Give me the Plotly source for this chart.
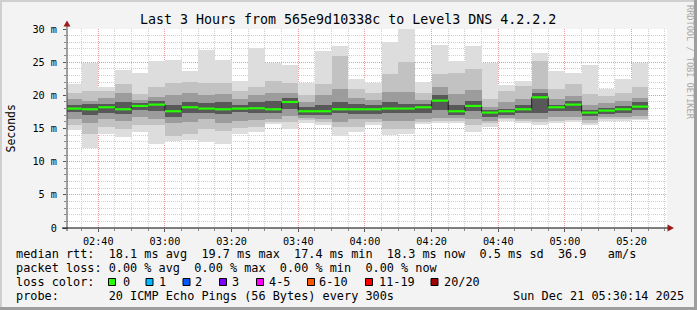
import plotly.graph_objects as go
import pandas as pd

# ---------------- data ----------------
bar_end = pd.date_range("2025-12-21 02:35:00", periods=35, freq="5min")

median_ms = [18.0, 17.9, 18.2, 17.9, 18.4, 18.6, 17.6, 18.2, 18.0, 17.9,
             18.0, 18.05, 17.9, 19.0, 17.6, 17.6, 17.9, 17.9, 17.9, 18.0,
             18.0, 18.2, 19.2, 17.6, 18.4, 17.4, 17.6, 17.9, 19.7, 18.2,
             18.6, 17.4, 17.7, 17.9, 18.3]
ping_max = [21.7, 24.8, 21.2, 23.8, 23.3, 25.2, 25.3, 23.7, 26.8, 25.3,
            22.1, 27.1, 24.9, 24.5, 21.8, 26.7, 27.5, 22.4, 21.8, 28.0,
            30.4, 22.0, 27.6, 25.2, 27.4, 24.9, 21.5, 22.2, 26.4, 23.7,
            23.3, 24.6, 21.0, 22.4, 24.8]
ping_u1 = [20.4, 20.6, 20.6, 21.7, 20.2, 21.2, 21.9, 22.0, 21.9, 21.9,
           20.7, 21.2, 22.2, 21.9, 20.0, 21.7, 26.0, 20.9, 20.4, 23.2,
           25.0, 20.4, 23.2, 23.4, 24.0, 19.4, 20.6, 21.4, 25.2, 21.0,
           21.7, 20.2, 19.9, 20.4, 21.2]
ping_u2 = [19.4, 19.2, 19.6, 20.4, 19.3, 19.8, 20.0, 20.4, 20.0, 20.2,
           19.5, 20.1, 20.4, 20.4, 19.0, 20.0, 21.0, 19.6, 19.3, 20.5,
           20.5, 19.3, 21.2, 20.2, 20.8, 18.3, 19.0, 19.5, 21.0, 19.4,
           19.9, 18.6, 18.8, 19.2, 19.6]
ping_u3 = [18.6, 18.7, 18.7, 19.0, 18.8, 19.2, 18.6, 19.0, 18.9, 19.0,
           18.6, 19.0, 19.2, 19.6, 18.2, 18.5, 19.0, 18.7, 18.6, 19.0,
           18.7, 18.7, 20.0, 18.6, 19.2, 17.8, 18.0, 18.6, 20.3, 18.6,
           19.2, 17.8, 18.1, 18.4, 19.0]
ping_l3 = [17.5, 17.0, 17.4, 17.2, 17.8, 17.6, 16.8, 17.3, 17.4, 17.2,
           17.5, 17.4, 17.3, 18.0, 17.0, 17.0, 17.3, 17.2, 17.2, 17.3,
           17.4, 17.4, 17.8, 17.0, 17.6, 16.7, 17.0, 17.3, 17.4, 17.6,
           17.6, 16.9, 17.2, 17.3, 17.8]
ping_l2 = [16.4, 15.9, 16.4, 16.1, 16.8, 16.4, 15.8, 16.0, 16.4, 15.9,
           16.2, 16.3, 16.4, 16.9, 16.6, 16.5, 16.0, 16.4, 16.4, 16.2,
           16.1, 16.4, 16.6, 16.6, 16.5, 16.2, 16.6, 16.5, 16.4, 16.8,
           16.7, 16.3, 16.7, 16.8, 16.9]
ping_l1 = [15.6, 14.2, 15.3, 15.0, 15.5, 15.6, 13.9, 14.1, 15.0, 14.6,
           15.1, 15.3, 16.0, 16.0, 16.3, 16.0, 15.2, 15.3, 16.0, 15.0,
           15.0, 16.0, 16.2, 16.2, 15.6, 15.8, 16.4, 16.1, 16.0, 16.2,
           16.3, 15.9, 16.4, 16.4, 16.5]
ping_min = [14.7, 12.0, 14.1, 13.7, 14.4, 12.7, 13.1, 13.2, 12.9, 12.6,
            14.1, 14.5, 15.7, 15.0, 15.9, 15.5, 13.8, 14.5, 15.5, 14.0,
            14.1, 15.7, 15.8, 15.8, 14.5, 15.3, 16.2, 15.8, 15.5, 15.8,
            16.0, 15.6, 16.1, 16.1, 16.3]

y_tick_vals = [0, 5, 10, 15, 20, 25, 30]
y_tick_text = ["0", "5 m", "10 m", "15 m", "20 m", "25 m", "30 m"]

title_text = "Last 3 Hours from 565e9d10338c to Level3 DNS 4.2.2.2"
legend_lines = [
    "median rtt:  18.1 ms avg  19.7 ms max  17.4 ms min  18.3 ms now  0.5 ms sd  36.9   am/s",
    "packet loss: 0.00 % avg  0.00 % max  0.00 % min  0.00 % now",
    "loss color:",
    "probe:       20 ICMP Echo Pings (56 Bytes) every 300s",
]
loss_labels = ["0", "1", "2", "3", "4-5", "6-10", "11-19", "20/20"]
loss_colors = ["#26ff00", "#00b8ff", "#0059ff", "#7e00ff", "#ff00ff", "#ff5500", "#ff0000", "#a10000"]
date_text = "Sun Dec 21 05:30:14 2025"

# ---------------- geometry ----------------
W, H = 697, 310
L, R, T, B = 67, 667, 29, 228
x_start = pd.Timestamp("2025-12-21 02:30:37")
x_stop = pd.Timestamp("2025-12-21 05:30:37")
MONO = "DejaVu Sans Mono"


def px(x):
    return (x - L) / (R - L)


def py(y):
    return (B - y) / (B - T)


def nb(s):
    return s.replace(" ", "\u00a0")


fig = go.Figure()

centers = bar_end - pd.Timedelta(seconds=150)
layers = [(ping_min, ping_max, "#dddddd"),
          (ping_l1, ping_u1, "#c2c2c2"),
          (ping_l2, ping_u2, "#9c9c9c"),
          (ping_l3, ping_u3, "#585858")]
for lo, hi, col in layers:
    fig.add_trace(go.Bar(
        x=centers, y=[h - l for h, l in zip(hi, lo)], base=lo,
        width=300000, marker=dict(color=col, line=dict(width=0)),
        hoverinfo="skip", showlegend=False))

# step connector (dark) and green median segments
starts = list(bar_end - pd.Timedelta(seconds=300))
fig.add_trace(go.Scatter(
    x=starts + [bar_end[-1]], y=median_ms + [median_ms[-1]],
    mode="lines", line=dict(shape="hv", color="#202020", width=1),
    hoverinfo="skip", showlegend=False))
seg_x, seg_y = [], []
for s, e, m in zip(starts, bar_end, median_ms):
    seg_x += [s, e, None]
    seg_y += [m, m, None]
fig.add_trace(go.Scatter(
    x=seg_x, y=seg_y, mode="lines", line=dict(color="#26ff00", width=2.2),
    hoverinfo="skip", showlegend=False))

shapes = []
# outer border (shade)
shapes.append(dict(type="line", xref="paper", yref="paper", x0=px(0), x1=px(W), y0=py(1), y1=py(1),
                   line=dict(color="#cfcfcf", width=2)))
shapes.append(dict(type="line", xref="paper", yref="paper", x0=px(1), x1=px(1), y0=py(0), y1=py(H),
                   line=dict(color="#cfcfcf", width=2)))
shapes.append(dict(type="line", xref="paper", yref="paper", x0=px(0), x1=px(W), y0=py(H - 1.5), y1=py(H - 1.5),
                   line=dict(color="#9e9e9e", width=3)))
shapes.append(dict(type="line", xref="paper", yref="paper", x0=px(W - 1.5), x1=px(W - 1.5), y0=py(0), y1=py(H),
                   line=dict(color="#9e9e9e", width=3)))
# axes
shapes.append(dict(type="line", xref="paper", yref="paper", x0=px(L), x1=px(L), y0=py(B + 3), y1=py(25),
                   line=dict(color="#444444", width=1)))
shapes.append(dict(type="line", xref="paper", yref="paper", x0=px(L - 5), x1=px(669), y0=py(B), y1=py(B),
                   line=dict(color="#000000", width=1)))
# arrows
shapes.append(dict(type="path", xref="paper", yref="paper",
                   path=f"M {px(L-3.5)},{py(26.5)} L {px(L+3.5)},{py(26.5)} L {px(L)},{py(20.5)} Z",
                   fillcolor="#9b1b1b", line=dict(width=0)))
shapes.append(dict(type="path", xref="paper", yref="paper",
                   path=f"M {px(667.5)},{py(B-3.5)} L {px(667.5)},{py(B+3.5)} L {px(674)},{py(B)} Z",
                   fillcolor="#9b1b1b", line=dict(width=0)))
# loss colour squares
sq_left = [108.5, 146, 183, 219.5, 256.5, 307.5, 365.5, 431]
for xl, c in zip(sq_left, loss_colors):
    shapes.append(dict(type="rect", xref="paper", yref="paper",
                       x0=px(xl), x1=px(xl + 7), y0=py(278.5), y1=py(285.5),
                       fillcolor=c, line=dict(color="#000000", width=1)))

annotations = []
annotations.append(dict(text=nb(title_text), x=px(347.5), y=py(19), xref="paper", yref="paper",
                        xanchor="center", yanchor="middle", showarrow=False,
                        font=dict(family=MONO, size=13.3, color="#000")))
for txt, yy in zip(legend_lines, [254.3, 268.3, 282.3, 296.2]):
    annotations.append(dict(text=nb(txt), x=px(16), y=py(yy), xref="paper", yref="paper",
                            xanchor="left", yanchor="middle", showarrow=False, borderpad=0, borderwidth=0,
                            font=dict(family=MONO, size=11.85, color="#000")))
lab_left = [122.5, 158.5, 195, 231.5, 268.5, 318.5, 379, 444.3]
for xl, t in zip(lab_left, loss_labels):
    annotations.append(dict(text=nb(t), x=px(xl), y=py(282.3), xref="paper", yref="paper",
                            xanchor="left", yanchor="middle", showarrow=False, borderpad=0, borderwidth=0,
                            font=dict(family=MONO, size=11.85, color="#000")))
annotations.append(dict(text=nb(date_text), x=px(513), y=py(296.2), xref="paper", yref="paper",
                        xanchor="left", yanchor="middle", showarrow=False, borderpad=0, borderwidth=0,
                        font=dict(family=MONO, size=11.85, color="#000")))
annotations.append(dict(text="Seconds", x=px(10), y=py(128.5), xref="paper", yref="paper",
                        xanchor="center", yanchor="middle", textangle=-90, showarrow=False,
                        borderpad=0, borderwidth=0,
                        font=dict(family=MONO, size=11.5, color="#000")))
annotations.append(dict(text=nb("RRDTOOL / TOBI OETIKER"), x=px(689.5), y=py(5), xref="paper", yref="paper",
                        xanchor="center", yanchor="top", textangle=90, showarrow=False,
                        borderpad=0, borderwidth=0,
                        font=dict(family=MONO, size=8.6, color="#a8a8a8")))

fig.update_layout(
    width=W, height=H,
    margin=dict(l=L, r=W - R, t=T, b=H - B, pad=0),
    paper_bgcolor="#f3f3f3", plot_bgcolor="#ffffff",
    barmode="overlay", bargap=0, showlegend=False,
    shapes=shapes, annotations=annotations,
    font=dict(family=MONO, size=10, color="#000"),
)
fig.update_xaxes(
    type="date", range=[x_start, x_stop], tick0="2025-12-21 02:40:00", dtick=1200000,
    tickformat="%H:%M", showline=False, zeroline=False,
    showgrid=True, gridcolor="#e89a9a", griddash="1px,1px", gridwidth=1,
    ticks="outside", ticklen=3, tickcolor="#555555", ticklabelstandoff=1,
    tickfont=dict(family=MONO, size=10.2, color="#000"),
    minor=dict(dtick=300000, showgrid=True, gridcolor="#cfcfcf", griddash="1px,1px",
               ticks="outside", ticklen=2, tickcolor="#888888"),
    fixedrange=True,
)
fig.update_yaxes(
    range=[0, 30], tickvals=y_tick_vals, ticktext=y_tick_text,
    showline=False, zeroline=False,
    showgrid=True, gridcolor="#e89a9a", griddash="1px,1px", gridwidth=1,
    ticks="outside", ticklen=3, tickcolor="#555555", ticklabelstandoff=4,
    tickfont=dict(family=MONO, size=10.2, color="#000"),
    minor=dict(dtick=1, showgrid=True, gridcolor="#cfcfcf", griddash="1px,1px",
               ticks="outside", ticklen=2, tickcolor="#888888"),
    fixedrange=True,
)

fig.write_html("out.html", config={"displayModeBar": False})
